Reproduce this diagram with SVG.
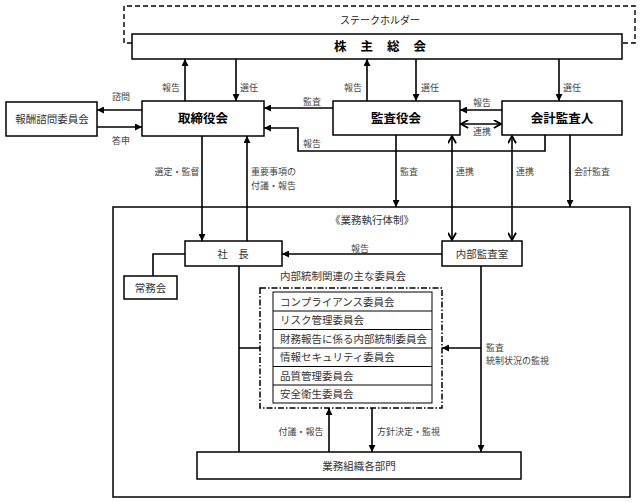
<svg xmlns="http://www.w3.org/2000/svg" width="640" height="502" viewBox="0 0 640 502">
<style>
.box{fill:#fff;stroke:#000;stroke-width:1.5}
.ln{fill:none;stroke:#000;stroke-width:1.6}
.t{font-family:"Noto Sans CJK JP","Noto Sans",sans-serif;}
.lbl{font-family:"Noto Sans CJK JP","Noto Sans",sans-serif;font-size:9px;fill:#444}
.nm{font-family:"Noto Sans CJK JP","Noto Sans",sans-serif;font-size:10.5px;fill:#333}
.bd{font-family:"Noto Sans CJK JP","Noto Sans",sans-serif;font-size:12.5px;font-weight:bold;fill:#000}
</style>
<defs>
<marker id="ah" viewBox="0 0 10 10" refX="10" refY="5" markerWidth="9" markerHeight="7" markerUnits="userSpaceOnUse" orient="auto-start-reverse"><path d="M0,0 L10,5 L0,10 z" fill="#000"/></marker>
<marker id="ch" viewBox="0 0 10 10" refX="9" refY="5" markerWidth="9" markerHeight="9" markerUnits="userSpaceOnUse" orient="auto-start-reverse"><path d="M1,0.5 L9,5 L1,9.5" fill="none" stroke="#000" stroke-width="2"/></marker>
</defs>

<g id="stakeholders">
<path d="M132,43 H124 V6 H635 V43 H622" fill="none" stroke="#000" stroke-width="1.4" stroke-dasharray="5,3"/>
<text class="t" x="380" y="24" font-size="10" fill="#222" text-anchor="middle">ステークホルダー</text>
</g>
<g id="agm">
<rect class="box" x="132" y="34" width="490" height="25"/>
<text class="bd" x="387" y="51" text-anchor="middle" letter-spacing="14">株主総会</text>
</g>
<g id="board">
<rect class="box" x="142" y="101" width="122" height="35"/>
<text class="bd" x="203" y="123" text-anchor="middle">取締役会</text>
</g>
<g id="compensation">
<rect class="box" x="6" y="102" width="91" height="34"/>
<text class="nm" x="52" y="123" text-anchor="middle">報酬諮問委員会</text>
</g>
<g id="auditboard">
<rect class="box" x="333" y="101" width="127" height="34"/>
<text class="bd" x="396" y="123" text-anchor="middle">監査役会</text>
</g>
<g id="accountant">
<rect class="box" x="502" y="101" width="120" height="34"/>
<text class="bd" x="562" y="123" text-anchor="middle">会計監査人</text>
</g>
<g id="execution">
<rect class="box" x="113" y="207" width="517" height="290"/>
<text class="nm" x="372" y="224" text-anchor="middle">《業務執行体制》</text>
</g>
<g id="president">
<rect class="box" x="185" y="241" width="97" height="25"/>
<text class="nm" x="233" y="257.5" text-anchor="middle">社　長</text>
</g>
<g id="executive">
<rect class="box" x="124" y="276" width="53" height="23"/>
<text class="nm" x="150.5" y="291.5" text-anchor="middle">常務会</text>
</g>
<g id="internalaudit">
<rect class="box" x="442" y="241" width="80" height="25"/>
<text class="nm" x="482" y="257.5" text-anchor="middle">内部監査室</text>
</g>
<g id="committees">
<text class="nm" x="343" y="280" text-anchor="middle">内部統制関連の主な委員会</text>
<rect x="260" y="288" width="182" height="120" fill="#fff" stroke="#000" stroke-width="1.5" stroke-dasharray="6,2,1.5,2"/>
<rect x="273" y="292" width="159" height="111" fill="#fff" stroke="#000" stroke-width="1"/>
<path d="M273,311 H432 M273,329.5 H432 M273,348 H432 M273,366.5 H432 M273,385 H432" stroke="#000" stroke-width="1"/>
<text class="nm" x="280" y="305.5">コンプライアンス委員会</text>
<text class="nm" x="280" y="324">リスク管理委員会</text>
<text class="nm" x="280" y="342.5">財務報告に係る内部統制委員会</text>
<text class="nm" x="280" y="361">情報セキュリティ委員会</text>
<text class="nm" x="280" y="379.5">品質管理委員会</text>
<text class="nm" x="280" y="398">安全衛生委員会</text>
</g>
<g id="departments">
<rect class="box" x="197" y="452" width="324" height="27"/>
<text class="nm" x="359" y="469.5" text-anchor="middle">業務組織各部門</text>
</g>

<g id="connectors">
<path class="ln" d="M142,110 H97" marker-end="url(#ah)"/>
<path class="ln" d="M97,127 H142" marker-end="url(#ah)"/>
<path class="ln" d="M185,101 V59" marker-end="url(#ah)"/>
<path class="ln" d="M236,59 V101" marker-end="url(#ah)"/>
<path class="ln" d="M367,101 V59" marker-end="url(#ah)"/>
<path class="ln" d="M416,59 V101" marker-end="url(#ah)"/>
<path class="ln" d="M559,59 V101" marker-end="url(#ah)"/>
<path class="ln" d="M333,108 H264" marker-end="url(#ah)"/>
<path class="ln" d="M545,135 V151 H298 V128 H264" marker-end="url(#ah)"/>
<path class="ln" d="M502,110 H460" marker-end="url(#ah)"/>
<path class="ln" d="M461,124 H501" marker-start="url(#ch)" marker-end="url(#ch)"/>
<path class="ln" d="M202,136 V241" marker-end="url(#ah)"/>
<path class="ln" d="M247,241 V136" marker-end="url(#ah)"/>
<path class="ln" d="M396,135 V207" marker-end="url(#ah)"/>
<path class="ln" d="M452,136 V240" marker-start="url(#ch)" marker-end="url(#ch)"/>
<path class="ln" d="M512,136 V240" marker-start="url(#ch)" marker-end="url(#ch)"/>
<path class="ln" d="M570,135 V207" marker-end="url(#ah)"/>
<path class="ln" d="M185,254 H153 V276" stroke-width="1.3"/>
<path class="ln" d="M442,254 H282" marker-end="url(#ah)"/>
<path class="ln" d="M239,266 V452 M239,348 H260" stroke-width="1.3"/>
<path class="ln" d="M481,266 V452" marker-end="url(#ah)" stroke-width="1.3"/>
<path class="ln" d="M481,348 H442" marker-end="url(#ah)" stroke-width="1.3"/>
<path class="ln" d="M329,452 V408" marker-end="url(#ah)"/>
<path class="ln" d="M372,408 V452" marker-end="url(#ah)"/>

<text class="lbl" x="121" y="100" text-anchor="middle">諮問</text>
<text class="lbl" x="121" y="144" text-anchor="middle">答申</text>
<text class="lbl" x="171" y="91" text-anchor="middle">報告</text>
<text class="lbl" x="249" y="91" text-anchor="middle">選任</text>
<text class="lbl" x="353" y="91" text-anchor="middle">報告</text>
<text class="lbl" x="430" y="91" text-anchor="middle">選任</text>
<text class="lbl" x="572" y="91" text-anchor="middle">選任</text>
<text class="lbl" x="312" y="105" text-anchor="middle">監査</text>
<text class="lbl" x="312" y="147" text-anchor="middle">報告</text>
<text class="lbl" x="482" y="106" text-anchor="middle">報告</text>
<text class="lbl" x="482" y="135" text-anchor="middle">連携</text>
<text class="lbl" x="177" y="175" text-anchor="middle">選定・監督</text>
<text class="lbl" x="251" y="175">重要事項の</text>
<text class="lbl" x="251" y="189">付議・報告</text>
<text class="lbl" x="400" y="175">監査</text>
<text class="lbl" x="456" y="175">連携</text>
<text class="lbl" x="516" y="175">連携</text>
<text class="lbl" x="574" y="175">会計監査</text>
<text class="lbl" x="360" y="252" text-anchor="middle">報告</text>
<text class="lbl" x="486" y="351">監査</text>
<text class="lbl" x="486" y="364">統制状況の監視</text>
<text class="lbl" x="301" y="435" text-anchor="middle">付議・報告</text>
<text class="lbl" x="377" y="435">方針決定・監視</text>
</g>
</svg>
